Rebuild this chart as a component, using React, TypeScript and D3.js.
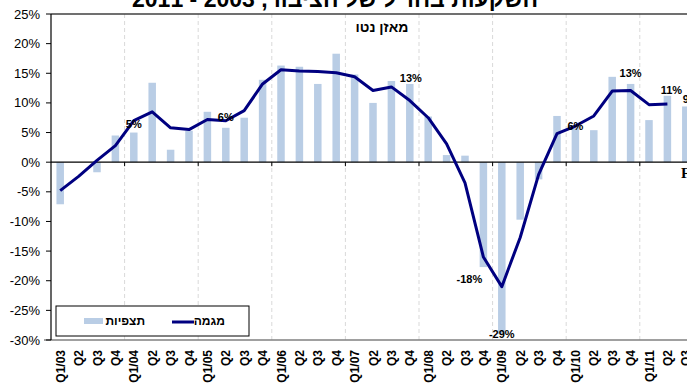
import React from "react";
import * as d3 from "d3";

// Quarter labels, Q1/03 through Q3/11
const quarters: string[] = [
  "Q1/03", "Q2", "Q3", "Q4",
  "Q1/04", "Q2", "Q3", "Q4",
  "Q1/05", "Q2", "Q3", "Q4",
  "Q1/06", "Q2", "Q3", "Q4",
  "Q1/07", "Q2", "Q3", "Q4",
  "Q1/08", "Q2", "Q3", "Q4",
  "Q1/09", "Q2", "Q3", "Q4",
  "Q1/10", "Q2", "Q3", "Q4",
  "Q1/11", "Q2", "Q3",
];

// Observed net balance (%)
const observed: number[] = [
  -7.1, 0, -1.7, 4.5,
  5.0, 13.4, 2.1, 5.3,
  8.5, 5.8, 7.5, 13.9,
  16.3, 16.1, 13.2, 18.3,
  14.8, 10.0, 13.7, 13.2,
  7.7, 1.2, 1.1, -17.7,
  -29.0, -9.7, -2.9, 7.8,
  6.2, 5.4, 14.4, 13.2,
  7.1, 11.2, 9.4,
];

// Trend (%), no value for the last quarter
const trend: (number | null)[] = [
  -4.8, -2.4, 0.3, 2.8,
  7.0, 8.5, 5.8, 5.5,
  7.2, 7.0, 8.7, 13.2,
  15.6, 15.4, 15.3, 15.1,
  14.4, 12.1, 12.7, 10.4,
  7.5, 3.1, -3.5, -16.0,
  -21.0, -12.7, -2.1, 4.8,
  6.1, 7.8, 12.0, 12.1,
  9.7, 9.8, null,
];

// Quarters whose observed value is annotated
const labelledIdx: number[] = [4, 9, 19, 23, 24, 28, 31, 33, 34];

const yTicks: number[] = [25, 20, 15, 10, 5, 0, -5, -10, -15, -20, -25, -30];

// Label nudges (px) per annotated quarter
const labelNudge: Record<number, [number, number]> = {
  4: [0, -9],
  9: [0, -11],
  19: [1, -6],
  23: [-14, 12],
  24: [0, 0],
  28: [0, 1],
  31: [0, -11],
  33: [4, -6],
  34: [5, -7],
};

const W = 687;
const H = 387;
const left = 51;
const top = 14;
const bottom = 340;
const step = 18.4;

export default function App() {
  const keys = quarters.map((_, i) => String(i));
  const x = d3
    .scaleBand<string>()
    .domain(keys)
    .range([left, left + step * quarters.length])
    .padding(0);
  const y = d3.scaleLinear().domain([-30, 25]).range([bottom, top]);
  const cx = (i: number) => (x(String(i)) as number) + x.bandwidth() / 2;
  const barW = 7.5;

  const line = d3
    .line<number | null>()
    .defined((d) => d !== null)
    .x((_, i) => cx(i))
    .y((d) => y(d as number));

  const yearBounds = quarters
    .map((q, i) => (q.startsWith("Q1/") && i > 0 ? x(String(i)) as number : null))
    .filter((v) => v !== null) as number[];

  const font = "'Liberation Sans', Arial, sans-serif";
  const navy = "#000080";
  const barFill = "#b9cde5";

  return (
    <svg
      width={W}
      height={H}
      style={{ position: "absolute", left: 0, top: 0, background: "#fff" }}
      fontFamily={font}
    >
      {/* title, partly above the top edge */}
      <text
        x={335}
        y={7}
        textAnchor="middle"
        direction="rtl"
        fontSize={23}
        fontWeight="bold"
        fill="#000"
      >
        השקעות בחו"ל של הציבור, 2003 - 2011
      </text>

      {/* year gridlines */}
      {yearBounds.map((bx) => (
        <line
          key={bx}
          x1={bx}
          x2={bx}
          y1={top}
          y2={bottom}
          stroke="#d9d9d9"
          strokeDasharray="4,3"
          strokeWidth={1}
        />
      ))}

      {/* plot frame lines */}
      <line x1={left} x2={W} y1={top} y2={top} stroke="#404040" strokeWidth={1.3} />
      <line x1={44} x2={W} y1={bottom} y2={bottom} stroke="#808080" strokeWidth={1.3} />

      {/* observed bars */}
      {observed.map((v, i) => (
        <rect
          key={i}
          x={cx(i) - barW / 2}
          width={barW}
          y={Math.min(y(v), y(0))}
          height={Math.abs(y(v) - y(0))}
          fill={barFill}
        />
      ))}

      {/* zero axis with year ticks */}
      <line x1={left} x2={W} y1={y(0)} y2={y(0)} stroke="#000" strokeWidth={1.2} />
      {yearBounds.map((bx) => (
        <line key={"t" + bx} x1={bx} x2={bx} y1={y(0)} y2={y(0) + 4} stroke="#000" strokeWidth={1} />
      ))}

      {/* y axis */}
      <line x1={left} x2={left} y1={top} y2={bottom} stroke="#000" strokeWidth={1.2} />
      {yTicks.map((t) => (
        <g key={t}>
          <line x1={left - 5} x2={left} y1={y(t)} y2={y(t)} stroke="#000" strokeWidth={1} />
          <text x={40} y={y(t) + 4.5} textAnchor="end" fontSize={13} fill="#000">
            {t}%
          </text>
        </g>
      ))}

      {/* trend line */}
      <path d={line(trend) || ""} fill="none" stroke={navy} strokeWidth={3} strokeLinejoin="round" />

      {/* value annotations */}
      {labelledIdx.map((i) => {
        const v = observed[i];
        const [dx, dy] = labelNudge[i] || [0, 0];
        return (
          <text
            key={"l" + i}
            x={cx(i) + dx}
            y={y(v) + dy + 4}
            textAnchor="middle"
            fontSize={11}
            fontWeight="bold"
            fill="#000"
          >
            {Math.round(v)}%
          </text>
        );
      })}

      {/* series caption */}
      <text x={382} y={32} textAnchor="middle" fontSize={14} fontWeight="bold" fill="#000">
        מאזן נטו
      </text>

      {/* x labels */}
      {quarters.map((q, i) => (
        <text
          key={"x" + i}
          transform={`translate(${cx(i) + 4.5},350) rotate(-90)`}
          textAnchor="end"
          fontSize={12}
          fontWeight="bold"
          fill="#000"
        >
          {q}
        </text>
      ))}

      {/* clipped marker on the right edge */}
      <text x={681} y={178} fontFamily="'Liberation Serif', 'Times New Roman', serif" fontSize={15} fontWeight="bold" fill="#000">
        F
      </text>

      {/* legend */}
      <rect x={56} y={306} width={193} height={30} fill="#fff" stroke="#000" strokeWidth={1} />
      <rect x={84} y={318} width={19} height={6} fill={barFill} />
      <text x={145} y={325} textAnchor="end" fontSize={12} fontWeight="bold" fill="#000">
        תצפיות
      </text>
      <line x1={172} x2={194} y1={322} y2={322} stroke={navy} strokeWidth={3} />
      <text x={225} y={325} textAnchor="end" fontSize={12} fontWeight="bold" fill="#000">
        מגמה
      </text>
    </svg>
  );
}
